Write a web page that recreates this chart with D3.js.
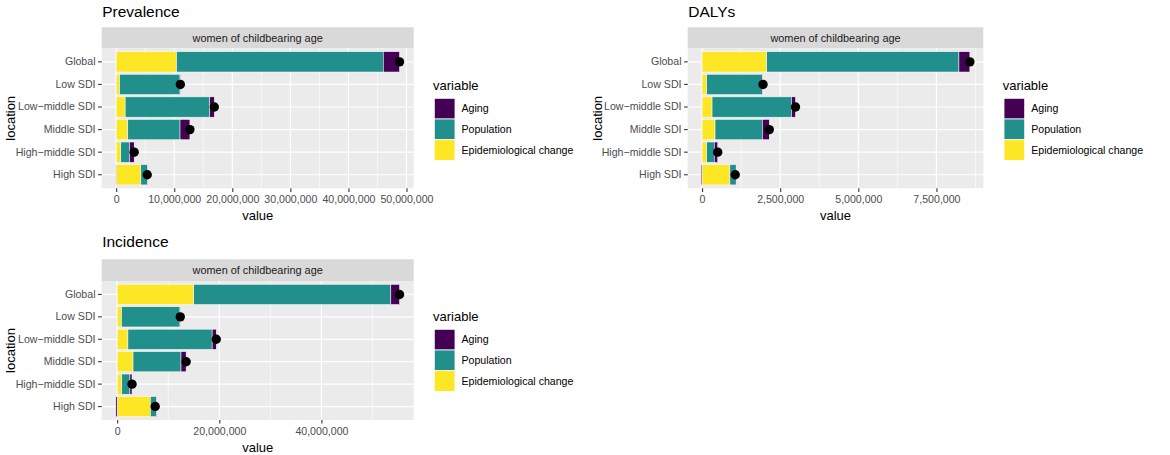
<!DOCTYPE html>
<html>
<head>
<meta charset="utf-8">
<script src="https://cdn.jsdelivr.net/npm/d3@7"></script>
<style>
  body { margin: 0; background: #fff; }
  svg { font-family: "Liberation Sans", Arial, sans-serif; }
</style>
</head>
<body>
<svg id="chart" width="1170" height="455"></svg>
<script>
// categories
var locations = ["Global", "Low SDI", "Low-middle SDI", "Middle SDI", "High-middle SDI", "High SDI"];
var variables = ["Aging", "Population", "Epidemiological change"];
var varColors = ["#440154", "#21908C", "#FDE725"];

// Prevalence decomposition
var prevAging = [2800000, 50000, 800000, 1700000, 800000, -50000];
var prevPopulation = [35600000, 10400000, 14550000, 9000000, 1500000, 1150000];
var prevEpi = [10400000, 600000, 1550000, 2000000, 800000, 4250000];
var prevTicks = [0, 10000000, 20000000, 30000000, 40000000, 50000000];

// DALYs decomposition
var dalyAging = [350000, 10000, 130000, 220000, 110000, -30000];
var dalyPopulation = [6150000, 1790000, 2540000, 1515000, 240000, 200000];
var dalyEpi = [2070000, 150000, 320000, 415000, 150000, 890000];
var dalyTicks = [0, 2500000, 5000000, 7500000];

// Incidence decomposition
var incAging = [1700000, 50000, 800000, 1000000, 400000, -260000];
var incPopulation = [38600000, 11450000, 16500000, 9400000, 1600000, 1200000];
var incEpi = [15000000, 850000, 2100000, 3100000, 900000, 6500000];
var incTicks = [0, 20000000, 40000000];

var stripLabel = "women of childbearing age";

var svg = d3.select("#chart");
var fmt = d3.format(",");

var panels = [
  { title: "Prevalence", aging: prevAging, pop: prevPopulation, epi: prevEpi, ticks: prevTicks,
    x0: 101.7, x1: 413.7, stripTop: 27.3, stripBot: 48.3, bottom: 188.3, titleY: 16.5,
    ytitleX: 10, legX: 433, legY: 85 },
  { title: "DALYs", aging: dalyAging, pop: dalyPopulation, epi: dalyEpi, ticks: dalyTicks,
    x0: 687.7, x1: 983.3, stripTop: 27.3, stripBot: 48.3, bottom: 188.3, titleY: 16.5,
    ytitleX: 597, legX: 1002.7, legY: 85 },
  { title: "Incidence", aging: incAging, pop: incPopulation, epi: incEpi, ticks: incTicks,
    x0: 101.7, x1: 413.7, stripTop: 259.3, stripBot: 281, bottom: 420, titleY: 247,
    ytitleX: 10, legX: 433, legY: 316 }
];

panels.forEach(function (p) {
  var rows = locations.map(function (loc, i) {
    return { location: loc, "Epidemiological change": p.epi[i], "Population": p.pop[i], "Aging": p.aging[i],
             total: p.epi[i] + p.pop[i] + p.aging[i] };
  });

  var series = d3.stack()
    .keys(["Epidemiological change", "Population", "Aging"])
    .offset(d3.stackOffsetDiverging)(rows);

  var lo = d3.min(series, function (s) { return d3.min(s, function (d) { return d[0]; }); });
  var hi = d3.max(series, function (s) { return d3.max(s, function (d) { return d[1]; }); });
  lo = Math.min(lo, d3.min(rows, function (r) { return r.total; }));
  hi = Math.max(hi, d3.max(rows, function (r) { return r.total; }));
  var pad = (hi - lo) * 0.05;

  var x = d3.scaleLinear().domain([lo - pad, hi + pad]).range([p.x0, p.x1]);
  var y = d3.scaleBand().domain(locations).range([p.stripBot, p.bottom])
    .paddingInner(0.1).paddingOuter(0.15);

  var g = svg.append("g");

  // title
  g.append("text").attr("x", p.x0 + 0.5).attr("y", p.titleY)
    .attr("font-size", "15.5px").attr("fill", "#000").text(p.title);

  // strip
  g.append("rect").attr("x", p.x0).attr("y", p.stripTop)
    .attr("width", p.x1 - p.x0).attr("height", p.stripBot - p.stripTop).attr("fill", "#d9d9d9");
  g.append("text").attr("x", (p.x0 + p.x1) / 2).attr("y", (p.stripTop + p.stripBot) / 2)
    .attr("dy", "0.35em").attr("text-anchor", "middle").attr("font-size", "10.9px")
    .attr("fill", "#1a1a1a").text(stripLabel);

  // panel background
  g.append("rect").attr("x", p.x0).attr("y", p.stripBot)
    .attr("width", p.x1 - p.x0).attr("height", p.bottom - p.stripBot).attr("fill", "#ebebeb");

  // minor grid
  var step = p.ticks[1] - p.ticks[0];
  var minor = [];
  for (var k = -1; k < p.ticks.length; k++) {
    var m = p.ticks[0] + step * (k + 0.5);
    if (m > x.domain()[0] && m < x.domain()[1]) minor.push(m);
  }
  g.selectAll(".minor").data(minor).enter().append("line")
    .attr("x1", function (d) { return x(d); }).attr("x2", function (d) { return x(d); })
    .attr("y1", p.stripBot).attr("y2", p.bottom)
    .attr("stroke", "#fff").attr("stroke-width", 0.6);

  // major grid
  g.selectAll(".vmajor").data(p.ticks).enter().append("line")
    .attr("x1", function (d) { return x(d); }).attr("x2", function (d) { return x(d); })
    .attr("y1", p.stripBot).attr("y2", p.bottom)
    .attr("stroke", "#fff").attr("stroke-width", 1.2);
  g.selectAll(".hmajor").data(locations).enter().append("line")
    .attr("x1", p.x0).attr("x2", p.x1)
    .attr("y1", function (d) { return y(d) + y.bandwidth() / 2; })
    .attr("y2", function (d) { return y(d) + y.bandwidth() / 2; })
    .attr("stroke", "#fff").attr("stroke-width", 1.2);

  // bars
  series.forEach(function (s) {
    var col = varColors[variables.indexOf(s.key)];
    g.selectAll(null).data(s).enter().append("rect")
      .attr("x", function (d) { return x(Math.min(d[0], d[1])); })
      .attr("width", function (d) { return Math.abs(x(d[1]) - x(d[0])); })
      .attr("y", function (d) { return y(d.data.location); })
      .attr("height", y.bandwidth())
      .attr("fill", col)
      .attr("stroke", "#fff").attr("stroke-width", 0.5);
  });

  // net change points
  g.selectAll(".dot").data(rows).enter().append("circle")
    .attr("cx", function (d) { return x(d.total); })
    .attr("cy", function (d) { return y(d.location) + y.bandwidth() / 2; })
    .attr("r", 4.7).attr("fill", "#000");

  // axes
  var xAxis = g.append("g").attr("transform", "translate(0," + p.bottom + ")")
    .call(d3.axisBottom(x).tickValues(p.ticks).tickFormat(fmt).tickSize(3.6).tickPadding(3.4));
  var yAxis = g.append("g").attr("transform", "translate(" + p.x0 + ",0)")
    .call(d3.axisLeft(y).tickSize(3.6).tickPadding(2.6)
      .tickFormat(function (d) { return d.replace("-", "\u2212"); }));
  [xAxis, yAxis].forEach(function (a) {
    a.select(".domain").remove();
    a.selectAll("line").attr("stroke", "#333").attr("stroke-width", 1.1);
    a.selectAll("text").attr("fill", "#4d4d4d").attr("font-size", "10.6px")
      .attr("font-family", "Liberation Sans, Arial, sans-serif");
  });

  // axis titles
  g.append("text").attr("x", (p.x0 + p.x1) / 2).attr("y", p.bottom + 31.5)
    .attr("text-anchor", "middle").attr("font-size", "13px").attr("fill", "#000").text("value");
  g.append("text")
    .attr("transform", "translate(" + (p.ytitleX + 4.5) + "," + ((p.stripBot + p.bottom) / 2) + ") rotate(-90)")
    .attr("text-anchor", "middle").attr("font-size", "13px").attr("fill", "#000").text("location");

  // legend
  var leg = g.append("g");
  leg.append("text").attr("x", p.legX).attr("y", p.legY).attr("dy", "0.35em")
    .attr("font-size", "13px").attr("fill", "#000").text("variable");
  variables.forEach(function (v, i) {
    var ky = p.legY + 13.3 + i * 20.7;
    leg.append("rect").attr("x", p.legX + 1.3).attr("y", ky)
      .attr("width", 20.7).attr("height", 20.7).attr("fill", "#f2f2f2");
    leg.append("rect").attr("x", p.legX + 1.3).attr("y", ky)
      .attr("width", 20.7).attr("height", 20.7).attr("fill", varColors[i])
      .attr("stroke", "#fff").attr("stroke-width", 0.8);
    leg.append("text").attr("x", p.legX + 28.5).attr("y", ky + 10.35).attr("dy", "0.35em")
      .attr("font-size", "10.6px").attr("fill", "#000").text(v);
  });
});
</script>
</body>
</html>
